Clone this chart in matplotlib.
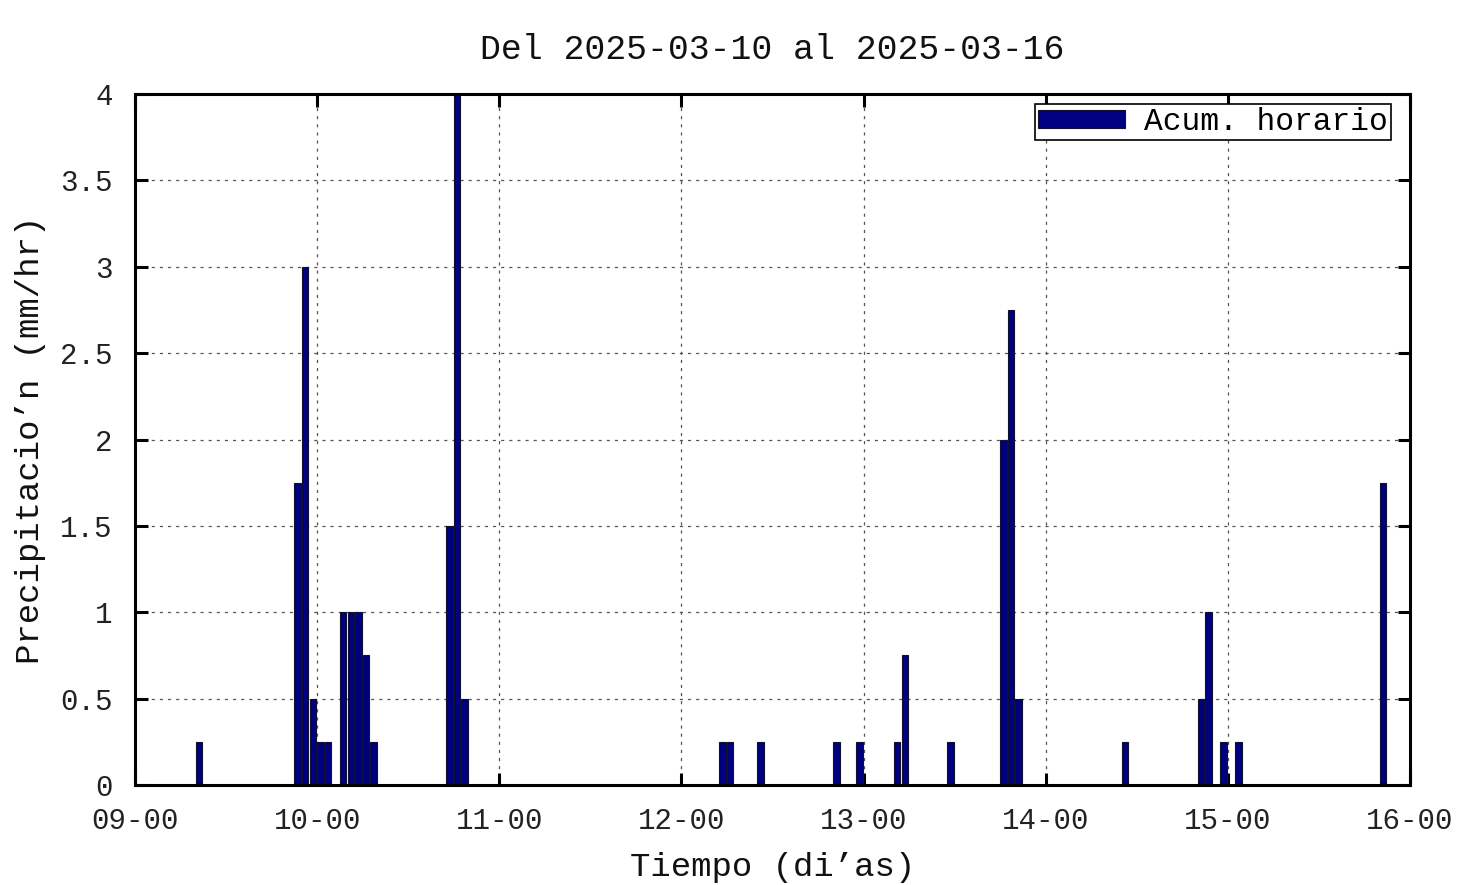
import matplotlib
matplotlib.use("Agg")
import matplotlib.pyplot as plt
import matplotlib.dates as mdates
import pandas as pd

# Data: hourly accumulated precipitation (mm/hr)
times = [
    "2025-03-09 08:00", "2025-03-09 21:00", "2025-03-09 22:00", "2025-03-09 23:00",
    "2025-03-10 00:00", "2025-03-10 01:00", "2025-03-10 03:00", "2025-03-10 04:00",
    "2025-03-10 05:00", "2025-03-10 06:00", "2025-03-10 07:00", "2025-03-10 17:00",
    "2025-03-10 18:00", "2025-03-10 19:00", "2025-03-12 05:00", "2025-03-12 06:00",
    "2025-03-12 10:00", "2025-03-12 20:00", "2025-03-12 23:00", "2025-03-13 04:00",
    "2025-03-13 05:00", "2025-03-13 11:00", "2025-03-13 18:00", "2025-03-13 19:00",
    "2025-03-13 20:00", "2025-03-14 10:00", "2025-03-14 20:00", "2025-03-14 21:00",
    "2025-03-14 23:00", "2025-03-15 01:00", "2025-03-15 20:00",
]
precip = [
    0.25, 1.75, 3.0, 0.5,
    0.25, 0.25, 1.0, 1.0,
    1.0, 0.75, 0.25, 1.5,
    4.0, 0.5, 0.25, 0.25,
    0.25, 0.25, 0.25, 0.25,
    0.75, 0.25, 2.0, 2.75,
    0.5, 0.25, 0.5, 1.0,
    0.25, 0.25, 1.75,
]
x_start = "2025-03-09 00:00"
x_end = "2025-03-16 00:00"
y_ticks = [0, 0.5, 1, 1.5, 2, 2.5, 3, 3.5, 4]
y_ticklabels = ["0", "0.5", "1", "1.5", "2", "2.5", "3", "3.5", "4"]
title = "Del 2025-03-10 al 2025-03-16"
xlabel = "Tiempo (di’as)"
ylabel = "Precipitacio’n (mm/hr)"
legend_label = "Acum. horario"

FONT = "Liberation Mono"
plt.rcParams["font.family"] = [FONT, "DejaVu Sans Mono"]

fig = plt.figure(figsize=(14.76, 8.85), dpi=100)
ax = fig.add_axes([135 / 1476, 1 - 785 / 885, 1275 / 1476, 691 / 885])

t = pd.to_datetime(times)
xnum = mdates.date2num(t.to_pydatetime())
bar_w = 0.86 / 24.0
ax.bar(xnum, precip, width=bar_w, align="edge", color="#000080",
       edgecolor="#101030", linewidth=0.8, label=legend_label, zorder=3)

ax.set_xlim(mdates.date2num(pd.Timestamp(x_start)), mdates.date2num(pd.Timestamp(x_end)))
ax.set_ylim(0, 4)
ax.xaxis.set_major_locator(mdates.DayLocator())
ax.xaxis.set_major_formatter(mdates.DateFormatter("%d-%H"))
ax.set_yticks(y_ticks)
ax.set_yticklabels(y_ticklabels)

ax.grid(True, color="#555555", linestyle=(0, (2.5, 4)), linewidth=0.9, zorder=1)
ax.set_axisbelow(True)
for s in ax.spines.values():
    s.set_linewidth(2.2)
    s.set_zorder(5)
ax.tick_params(axis="both", which="major", direction="in", length=9, width=2.2,
               top=True, right=True, labelsize=21, colors="black")
ax.tick_params(axis="x", pad=16)
ax.tick_params(axis="y", pad=16)
for lab in ax.get_xticklabels() + ax.get_yticklabels():
    lab.set_color("#222222")

ax.set_title(title, fontsize=25, pad=25, color="#111111")
ax.set_xlabel(xlabel, fontsize=24.5, labelpad=12, color="#111111")
ax.set_ylabel(ylabel, fontsize=24.5, labelpad=10, color="#111111")

leg = ax.legend(loc="upper right", bbox_to_anchor=(1391 / 1476, 1 - 104 / 885),
                bbox_transform=fig.transFigure, borderaxespad=0, fontsize=22.5,
                frameon=True, fancybox=False, framealpha=1, edgecolor="black",
                handlelength=2.8, handleheight=0.55, borderpad=0.1,
                handletextpad=0.6)
leg.get_frame().set_linewidth(1.2)

fig.savefig("out.png", dpi=100)
